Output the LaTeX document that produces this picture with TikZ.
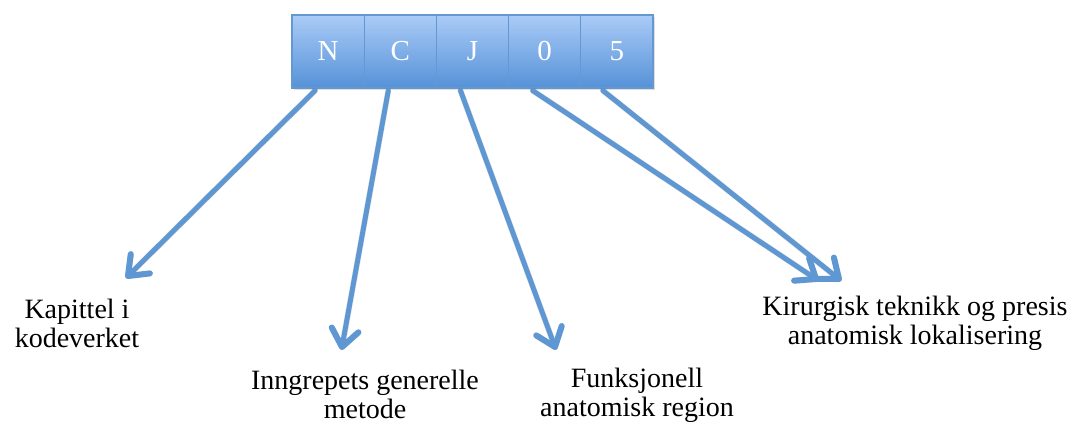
\documentclass[tikz,border=0pt]{standalone}
\usepackage{fontspec}
\setmainfont{Liberation Serif}
\usetikzlibrary{shadows,calc}
\definecolor{boxtop}{HTML}{AACBF7}
\definecolor{boxbot}{HTML}{5592D8}
\definecolor{boxline}{HTML}{6597D0}
\definecolor{arrowc}{HTML}{5F97D2}
\tikzset{
  codebox/.style={minimum width=72.2pt, minimum height=73pt, inner sep=0pt,
    top color=boxtop, bottom color=boxbot, draw=boxline, line width=1.2pt,
    text=white, font=\fontsize{29}{30}\selectfont,
    drop shadow={shadow xshift=1.5pt, shadow yshift=-2.5pt, opacity=0.25}},
  label/.style={align=center, font=\fontsize{28}{29}\selectfont, inner sep=0pt, anchor=base},
  pointer/.style={draw=arrowc, line width=5pt, line cap=round, line join=round},
  headline/.style={draw=arrowc, line width=6pt, line cap=round, line join=round},
  pshadow/.style={draw=black, opacity=0.10, line width=6pt, line cap=round, line join=round}
}
\newcommand{\pointerpath}[4]{%
  \draw[#1] (#3) -- (#4);
  \draw[#2] ($(#4)!22pt!38:(#3)$) -- (#4) -- ($(#4)!22pt!-38:(#3)$);}
\begin{document}
\begin{tikzpicture}[x=1pt,y=-1pt]
\useasboundingbox (0,0) rectangle (1079,422);
\node[codebox] (b1) at (328.1,51.5) {N};
\node[codebox] (b2) at (400.3,51.5) {C};
\node[codebox] (b3) at (472.5,51.5) {J};
\node[codebox] (b4) at (544.7,51.5) {0};
\node[codebox] (b5) at (616.9,51.5) {5};
\coordinate (s1) at ($(b1.south)+(-13,2)$);
\coordinate (s2) at ($(b2.south)+(-12,2)$);
\coordinate (s3) at ($(b3.south)+(-12,2)$);
\coordinate (s4) at ($(b4.south)+(-12,2)$);
\coordinate (s5) at ($(b5.south)+(-14,2)$);
\coordinate (t1) at (128,276);
\coordinate (t2) at (342,347);
\coordinate (t3) at (555,347);
\coordinate (t4) at (816,279);
\coordinate (t5) at (839,279);
\begin{scope}[shift={(2,3)}]
\foreach \i in {1,...,5} {\pointerpath{pshadow}{pshadow}{s\i}{t\i}}
\end{scope}
\foreach \i in {1,...,5} {\pointerpath{pointer}{headline}{s\i}{t\i}}
\node[label] (l1) at (77,347) {Kapittel i\\kodeverket};
\node[label] (l2) at (365,418) {Inngrepets generelle\\metode};
\node[label] (l3) at (637,416) {Funksjonell\\anatomisk region};
\node[label] (l4) at (915,344) {Kirurgisk teknikk og presis\\anatomisk lokalisering};
\end{tikzpicture}
\end{document}
